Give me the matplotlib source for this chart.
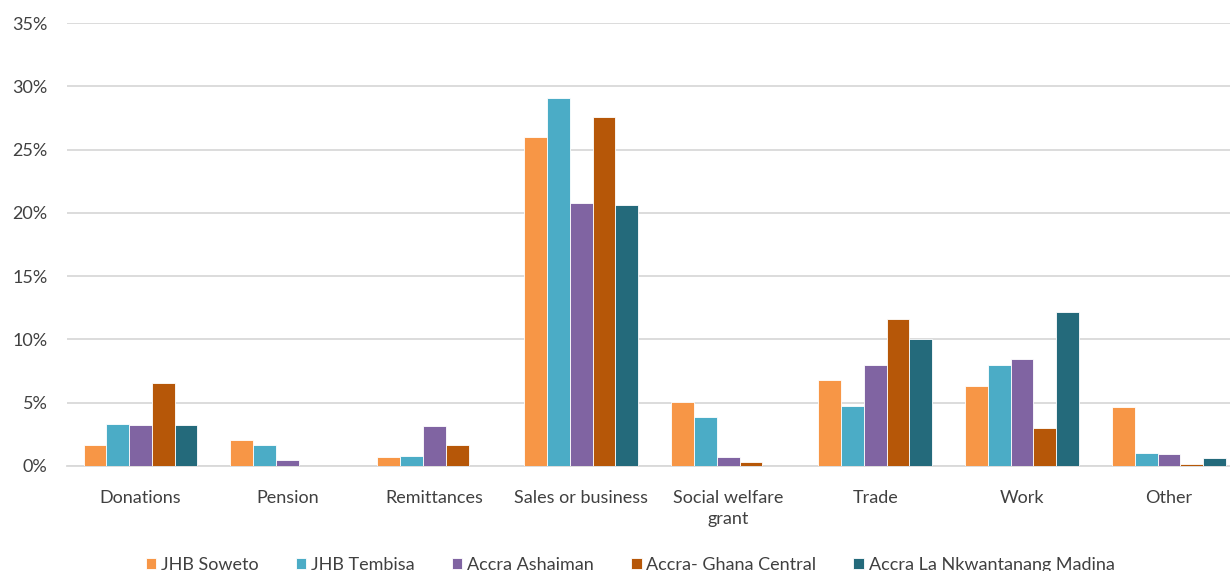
import numpy as np
import matplotlib.pyplot as plt
from matplotlib.ticker import FuncFormatter

# categories and series (percent of respondents)
categories = ["Donations", "Pension", "Remittances", "Sales or business",
              "Social welfare\ngrant", "Trade", "Work", "Other"]
series_names = ["JHB Soweto", "JHB Tembisa", "Accra Ashaiman",
                "Accra- Ghana Central", "Accra La Nkwantanang Madina"]
soweto = [1.66, 2.08, 0.71, 25.96, 5.08, 6.77, 6.32, 4.64]
tembisa = [3.35, 1.66, 0.79, 29.1, 3.87, 4.72, 8.0, 1.06]
ashaiman = [3.27, 0.45, 3.19, 20.8, 0.71, 8.0, 8.48, 0.95]
ghana_central = [6.53, 0.0, 1.66, 27.6, 0.35, 11.59, 3.0, 0.13]
madina = [3.27, 0.0, 0.0, 20.6, 0.0, 10.03, 12.14, 0.63]
yticks = [0, 5, 10, 15, 20, 25, 30, 35]

series = [soweto, tembisa, ashaiman, ghana_central, madina]
colors = ["#F79646", "#4BACC6", "#8064A2", "#B65708", "#246A7B"]

plt.rcParams['font.family'] = ['Lato', 'DejaVu Sans']

fig = plt.figure(figsize=(12.3, 5.71), dpi=100)
ax = fig.add_axes([67 / 1230, 1 - 466 / 571, 1 - 67 / 1230, (466 - 23) / 571])

x = np.arange(len(categories))
bar_w = 0.155
for i in range(len(series)):
    offset = (i - 2) * bar_w
    ax.bar(x + offset, series[i], width=bar_w, color=colors[i],
           edgecolor="white", linewidth=0.6, label=series_names[i], zorder=3)

ax.set_xlim(-0.5, 7.415)
ax.set_ylim(0, 35)
ax.set_yticks(yticks)
ax.yaxis.set_major_formatter(FuncFormatter(lambda v, p: "%d%%" % v))
ax.set_xticks(x)
ax.set_xticklabels(categories, linespacing=1.4)

ax.grid(axis="y", color="#D9D9D9", linewidth=1.3, zorder=0)
ax.tick_params(axis="both", length=0, labelsize=13, labelcolor="#404040")
ax.tick_params(axis="y", pad=14)
ax.tick_params(axis="x", pad=17)
for side in ["top", "right", "left"]:
    ax.spines[side].set_visible(False)
ax.spines["bottom"].set_color("#D9D9D9")
ax.spines["bottom"].set_linewidth(1.3)

leg = fig.legend(loc="center", bbox_to_anchor=(630 / 1230, 6 / 571), ncol=5,
                 frameon=False, fontsize=13, handlelength=0.6, handleheight=0.6,
                 handletextpad=0.25, columnspacing=2.05, borderpad=0)
for t in leg.get_texts():
    t.set_color("#404040")

plt.savefig("out.png", dpi=100)
